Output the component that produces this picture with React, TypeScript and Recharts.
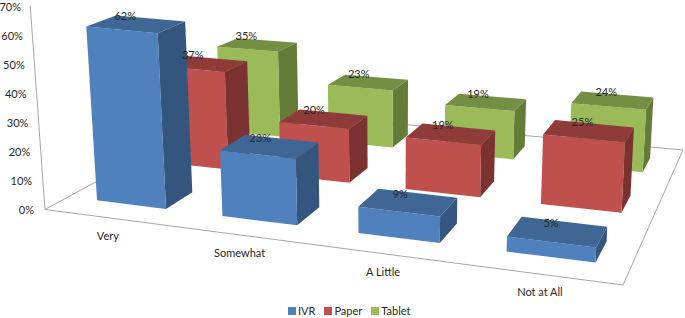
import React from "react";
import { BarChart, Bar, XAxis, YAxis, Legend, Customized } from "recharts";

const categories = ["Very", "Somewhat", "A Little", "Not at All"];
const ivr = [62, 23, 9, 5];
const paper = [37, 20, 19, 25];
const tablet = [35, 23, 19, 24];
const yTicks = [0, 10, 20, 30, 40, 50, 60, 70];

const rows = categories.map((name, i) => ({ name, IVR: ivr[i], Paper: paper[i], Tablet: tablet[i] }));

const FONT = "Lato, 'Open Sans', sans-serif";
const TEXT = "#262626";

// floor quad of the 3-D scene, used as a projection of (category, series) → pixels
const Q = [[45, 209.5], [623, 285], [683, 150], [231, 108.6]];
const H = (() => {
  const [[x0, y0], [x1, y1], [x2, y2], [x3, y3]] = Q;
  const dx1 = x1 - x2, dx2 = x3 - x2, sx = x0 - x1 + x2 - x3;
  const dy1 = y1 - y2, dy2 = y3 - y2, sy = y0 - y1 + y2 - y3;
  const det = dx1 * dy2 - dx2 * dy1;
  const g = (sx * dy2 - dx2 * sy) / det;
  const h = (dx1 * sy - sx * dy1) / det;
  return { a: x1 - x0 + g * x1, b: x3 - x0 + h * x3, c: x0, d: y1 - y0 + g * y1, e: y3 - y0 + h * y3, f: y0, g, h };
})();

const floorPt = (u: number, v: number) => {
  const s = u / 4, t = v / 3;
  const w = H.g * s + H.h * t + 1;
  return [(H.a * s + H.b * t + H.c) / w, (H.d * s + H.e * t + H.f) / w];
};

const pt = (u: number, v: number, hPx: number) => {
  const [x, y] = floorPt(u, v);
  const h = hPx * (0.985 - 0.07 * v + 0.02 * u);
  return [x + (x - 390) * 0.00021 * h, y - h];
};

const poly = (pts: number[][]) => pts.map((p) => p.map((n) => n.toFixed(1)).join(",")).join(" ");

const UW = 0.56;
const VW = 0.4;
const V_START = 0.33;

const palette = [
  { front: "#4F81BD", top: "#3E6795", side: "#34557E" },
  { front: "#C0504D", top: "#8E3B39", side: "#7C3230" },
  { front: "#9BBB59", top: "#748E43", side: "#657C39" },
];

const boxShape = (series: number) => (props: any) => {
  const { index, height } = props;
  const u0 = index + 0.5 - UW / 2, u1 = index + 0.5 + UW / 2;
  const v0 = series + V_START, v1 = v0 + VW;
  const c = palette[series];
  return (
    <g transform="translate(0,1.5)">
      <polygon fill={c.side} points={poly([pt(u1, v0, 0), pt(u1, v1, 0), pt(u1, v1, height), pt(u1, v0, height)])} />
      <polygon fill={c.front} points={poly([pt(u0, v0, 0), pt(u1, v0, 0), pt(u1, v0, height), pt(u0, v0, height)])} />
      <polygon fill={c.top} points={poly([pt(u0, v0, height), pt(u1, v0, height), pt(u1, v1, height), pt(u0, v1, height)])} />
    </g>
  );
};

const labelShape = (series: number) => (props: any) => {
  const { index, height, value } = props;
  const [x, y] = pt(index + 0.5, series + V_START + VW / 2, height);
  const v = Array.isArray(value) ? value[1] - value[0] : value;
  return (
    <text x={x - 11 + index * 1.5} y={y - 3} textAnchor="middle" fontFamily={FONT} fontSize={11} fill={TEXT}>
      {v}%
    </text>
  );
};

const Floor = () => (
  <g fill="none" stroke="#a6a6a6" strokeWidth={1}>
    <polyline points={poly([pt(0, 0, 207), Q[0], Q[1], Q[2], Q[3], Q[0]])} />
  </g>
);

const YTick = (props: any) => {
  const { y, payload } = props;
  return (
    <text x={34 - (payload.value / 70) * 13} y={y + 4} textAnchor="end" fontFamily={FONT} fontSize={11} fill={TEXT}>
      {payload.value}%
    </text>
  );
};

const XTick = (props: any) => {
  const { index, payload } = props;
  const [x, y] = floorPt(index + 0.5, 0);
  return (
    <text x={x + 1} y={y + 22} textAnchor="middle" fontFamily={FONT} fontSize={11} fill={TEXT}>
      {payload.value}
    </text>
  );
};

const LegendBody = (props: any) => (
  <div style={{ display: "flex", gap: 9, paddingLeft: 288, paddingTop: 6, fontFamily: FONT, fontSize: 11, color: TEXT, lineHeight: "14px" }}>
    {props.payload
      .filter((item: any) => item.type !== "none")
      .map((item: any) => (
        <span key={item.value} style={{ display: "flex", alignItems: "center", gap: 2 }}>
          <span style={{ width: 8, height: 8, background: item.color, display: "inline-block" }} />
          {item.value}
        </span>
      ))}
  </div>
);

export default function App() {
  return (
    <div style={{ position: "absolute", left: 0, top: 0 }}>
      <BarChart width={685} height={318} data={rows} margin={{ top: 7, right: 0, bottom: 0, left: 0 }}>
        <XAxis dataKey="name" height={88} axisLine={false} tickLine={false} tick={<XTick />} interval={0} />
        <YAxis width={40} domain={[0, 70]} ticks={yTicks} axisLine={false} tickLine={false} tick={<YTick />} interval={0} />
        <Customized component={Floor} />
        <Bar dataKey="Tablet" fill={palette[2].front} isAnimationActive={false} shape={boxShape(2)} />
        <Bar dataKey="Paper" fill={palette[1].front} isAnimationActive={false} shape={boxShape(1)} />
        <Bar dataKey="IVR" fill={palette[0].front} isAnimationActive={false} shape={boxShape(0)} />
        <Bar dataKey="Tablet" legendType="none" isAnimationActive={false} shape={labelShape(2)} />
        <Bar dataKey="Paper" legendType="none" isAnimationActive={false} shape={labelShape(1)} />
        <Bar dataKey="IVR" legendType="none" isAnimationActive={false} shape={labelShape(0)} />
        <Legend height={20} content={<LegendBody />} wrapperStyle={{ left: 0, width: 685 }} />
      </BarChart>
    </div>
  );
}
